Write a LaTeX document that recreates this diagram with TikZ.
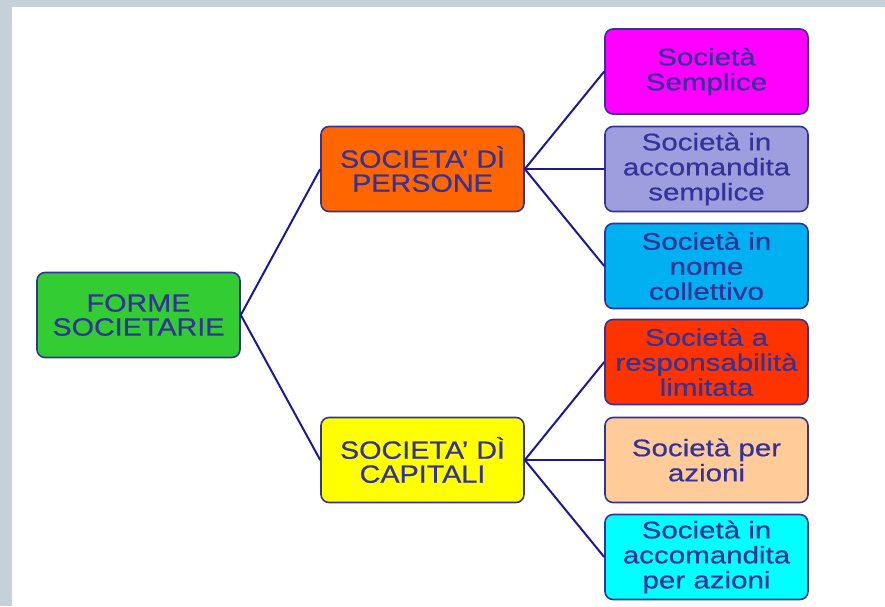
\documentclass[tikz,border=0pt]{standalone}
\usepackage{fontspec}
\setmainfont{Liberation Sans}
\newfontfamily\largoA[FakeStretch=1.15,FakeBold=0.6]{Liberation Sans}
\newfontfamily\largoB[FakeStretch=1.23,FakeBold=0.6]{Liberation Sans}
\usepackage{tikz}
\definecolor{frame}{HTML}{C5D0D8}
\definecolor{testo}{HTML}{333399}
\definecolor{linea}{HTML}{1A1A99}
\definecolor{verde}{HTML}{33CC33}
\definecolor{arancio}{HTML}{FF6600}
\definecolor{giallo}{HTML}{FFFF00}
\definecolor{magenta}{HTML}{FF00FF}
\definecolor{lilla}{HTML}{9E9EDE}
\definecolor{azzurro}{HTML}{00B0F0}
\definecolor{rosso}{HTML}{FF3300}
\definecolor{pesca}{HTML}{FFCC99}
\definecolor{ciano}{HTML}{00FFFF}
\tikzset{
  casella/.style={draw=testo,line width=1.6pt,rounded corners=8pt,text=testo,
    minimum width=203pt,minimum height=85pt,inner sep=0pt,align=center},
  grande/.style={casella,font=\largoA\fontsize{25}{24}\selectfont},
  piccola/.style={casella,font=\largoB\fontsize{24}{25}\selectfont},
  ramo/.style={draw=linea,line width=2pt}
}
\begin{document}
\begin{tikzpicture}[x=1pt,y=-1pt]
            \fill[frame] (0,0) rectangle (885,606);
            \fill[white] (12,7) rectangle (885,606);
            \useasboundingbox (0,0) rectangle (885,606);
            % livello 1
            \node[grande,fill=verde] (forme) at (138.5,315) {FORME\\SOCIETARIE};
            \node[grande,fill=arancio] (persone) at (422.5,169) {SOCIETA’ DÌ\\PERSONE};
            \node[grande,fill=giallo] (capitali) at (422.5,460) {SOCIETA’ DÌ\\CAPITALI};
            % società di persone
            \node[piccola,fill=magenta] (ss) at (706.5,71.5) {Società\\Semplice};
            \node[piccola,fill=lilla] (sas) at (706.5,169) {Società in\\accomandita\\semplice};
            \node[piccola,fill=azzurro] (snc) at (706.5,266) {Società in\\nome\\collettivo};
            % società di capitali
            \node[piccola,fill=rosso] (srl) at (706.5,362) {Società a\\responsabilità\\limitata};
            \node[piccola,fill=pesca] (spa) at (706.5,460) {Società per\\azioni};
            \node[piccola,fill=ciano] (sapa) at (706.5,557) {Società in\\accomandita\\per azioni};
            \draw[ramo] (forme.east) -- (persone.west);
            \draw[ramo] (forme.east) -- (capitali.west);
            \foreach \f in {ss,sas,snc}
                \draw[ramo] (persone.east) -- (\f.west);
            \foreach \f in {srl,spa,sapa}
                \draw[ramo] (capitali.east) -- (\f.west);
        \end{tikzpicture}
\end{document}
